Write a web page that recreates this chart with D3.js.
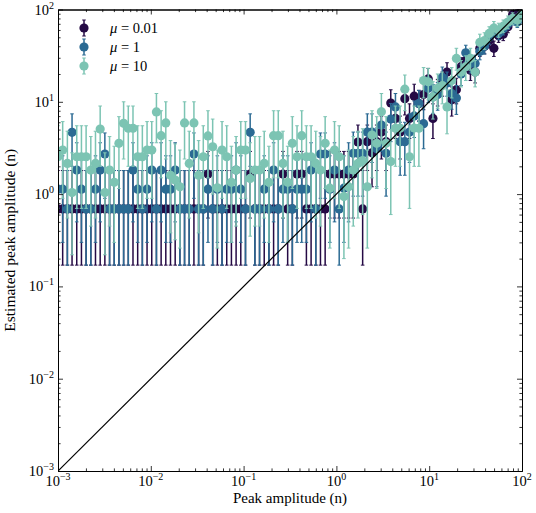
<!DOCTYPE html>
<html>
<head>
<meta charset="utf-8">
<script src="https://cdn.jsdelivr.net/npm/d3@7"></script>
<style>
  body { margin: 0; background: #fff; }
  svg text { font-family: "Liberation Serif", "DejaVu Serif", serif; fill: #000; }
</style>
</head>
<body>
<svg id="chart" width="536" height="513"></svg>
<script>
// ---------- donnees ----------
// amplitude vraie (axe x), grille commune aux trois series
const amplitude = [
  0.001000, 0.001123, 0.001262, 0.001417, 0.001592, 0.001789, 0.002009, 0.002257, 0.002535, 0.002848,
  0.003199, 0.003594, 0.004037, 0.004535, 0.005094, 0.005722, 0.006428, 0.007221, 0.008111, 0.009112,
  0.01024, 0.01150, 0.01292, 0.01451, 0.01630, 0.01831, 0.02057, 0.02310, 0.02595, 0.02915,
  0.03275, 0.03678, 0.04132, 0.04642, 0.05214, 0.05857, 0.06579, 0.07391, 0.08302, 0.09326,
  0.1048, 0.1177, 0.1322, 0.1485, 0.1668, 0.1874, 0.2105, 0.2364, 0.2656, 0.2984,
  0.3352, 0.3765, 0.4229, 0.4751, 0.5337, 0.5995, 0.6734, 0.7565, 0.8498, 0.9545,
  1.072, 1.205, 1.353, 1.520, 1.707, 1.918, 2.154, 2.420, 2.719, 3.054,
  3.430, 3.854, 4.329, 4.863, 5.462, 6.136, 6.893, 7.743, 8.697, 9.770,
  10.97, 12.33, 13.85, 15.56, 17.48, 19.63, 22.05, 24.77, 27.83, 31.26,
  35.11, 39.44, 44.31, 49.77, 55.91, 62.80, 70.55, 79.25, 89.02, 100.0
];

// [estimation, borne basse, borne haute] pour chaque amplitude
const estMu001 = [
  [0.69,0.17,1.8],[0.69,0.17,1.8],[0.69,0.17,1.8],[0.69,0.17,1.8],[0.69,0.17,1.8],[0.69,0.17,1.8],[0.69,0.17,1.8],[0.69,0.17,1.8],[0.69,0.17,1.8],[0.69,0.17,1.8],
  [0.69,0.17,1.8],[0.69,0.17,1.8],[0.69,0.17,1.8],[0.69,0.17,1.8],[0.69,0.17,1.8],[0.69,0.17,1.8],[0.69,0.17,1.8],[0.69,0.17,1.8],[0.69,0.17,1.8],[0.69,0.17,1.8],
  [0.69,0.17,1.8],[0.69,0.17,1.8],[0.69,0.17,1.8],[0.69,0.17,1.8],[0.69,0.17,1.8],[0.69,0.17,1.8],[0.69,0.17,1.8],[0.69,0.17,1.8],[0.69,0.17,1.8],[0.69,0.17,1.8],
  [0.69,0.17,1.8],[0.69,0.17,1.8],[1.65,0.55,2.9],[0.69,0.17,1.8],[0.69,0.17,1.8],[0.69,0.17,1.8],[0.69,0.17,1.8],[0.69,0.17,1.8],[0.69,0.17,1.8],[0.69,0.17,1.8],
  [0.69,0.17,1.8],[1.65,0.55,2.9],[0.69,0.17,1.8],[0.69,0.17,1.8],[0.69,0.17,1.8],[0.69,0.17,1.8],[0.69,0.17,1.8],[0.69,0.17,1.8],[1.65,0.55,2.9],[0.69,0.17,1.8],
  [0.69,0.17,1.8],[1.65,0.55,2.9],[1.65,0.55,2.9],[0.69,0.17,1.8],[0.69,0.17,1.8],[0.69,0.17,1.8],[0.69,0.17,1.8],[0.69,0.17,1.8],[1.65,0.55,2.9],[1.65,0.55,2.9],
  [1.65,0.55,2.9],[1.65,0.55,2.9],[1.65,0.55,2.9],[1.65,0.55,2.9],[3.67,1.8,5.6],[0.69,0.17,1.8],[3.7,1.8,5.6],[2.8,1.2,4.6],[3.7,1.8,5.6],[4.7,2.4,7.0],
  [3.7,1.8,5.6],[9.7,6.3,13.5],[6.6,4.0,9.5],[4.7,2.4,7.0],[10.8,7.2,14.8],[6.6,4.0,9.5],[11.5,7.7,15.5],[9.6,6.2,13.3],[12,8.2,16.2],[17.7,13,23],
  [6.6,4.0,9.5],[13,9,17.5],[16,11.5,21],[21,16,26.5],[10.5,7,14.5],[13.5,9.5,18],[24,18.5,30],[28,22,34.5],[22,17,28],[21,16,26.5],
  [38,31,45.5],[40,33,48],[46,38.5,54],[38,31,45.5],[52,44,60],[54,46,62.5],[65,56,74],[88,78,98],[91,81,101],[95,85,105]
];

const estMu1 = [
  [1.13,0.3,2.6],[1.13,0.3,2.6],[0.69,0.17,1.8],[4.67,2.0,7.4],[1.82,0.5,3.6],[1.13,0.3,2.6],[0.69,0.17,1.8],[0.69,0.17,1.8],[1.13,0.3,2.6],[1.82,0.5,3.6],
  [2.72,0.9,4.6],[0.69,0.17,1.8],[0.69,0.17,1.8],[0.69,0.17,1.8],[0.69,0.17,1.8],[0.69,0.17,1.8],[1.82,0.5,3.6],[1.13,0.3,2.6],[0.69,0.17,1.8],[1.13,0.3,2.6],
  [1.82,0.5,3.6],[0.69,0.17,1.8],[1.82,0.5,3.6],[1.13,0.3,2.6],[1.13,0.3,2.6],[1.82,0.5,3.6],[0.69,0.17,1.8],[0.69,0.17,1.8],[0.69,0.17,1.8],[2.72,0.9,4.6],
  [0.69,0.17,1.8],[0.69,0.17,1.8],[1.13,0.3,2.6],[0.69,0.17,1.8],[1.13,0.3,2.6],[0.69,0.17,1.8],[1.13,0.3,2.6],[1.13,0.3,2.6],[1.82,0.5,3.6],[1.13,0.3,2.6],
  [0.69,0.17,1.8],[4.67,2.0,7.4],[0.69,0.17,1.8],[0.69,0.17,1.8],[1.13,0.3,2.6],[0.69,0.17,1.8],[1.82,0.5,3.6],[0.69,0.17,1.8],[1.13,0.3,2.6],[1.13,0.3,2.6],
  [0.69,0.17,1.8],[1.13,0.3,2.6],[1.13,0.3,2.6],[1.13,0.3,2.6],[1.82,0.5,3.6],[0.69,0.17,1.8],[2.72,0.9,4.6],[2.72,0.9,4.6],[1.13,0.3,2.6],[1.82,0.5,3.6],
  [0.69,0.17,1.8],[1.16,0.3,2.6],[1.82,0.5,3.6],[2.77,0.95,4.7],[2.77,0.95,4.7],[2.77,0.95,4.7],[4.7,2.2,7.4],[4.7,2.2,7.4],[3.1,1.2,5.2],[5.6,2.9,8.5],
  [2.77,0.95,4.7],[6.5,3.7,9.6],[8.8,5.5,12.3],[3.7,1.6,6.0],[3.7,1.6,6.0],[4.7,2.2,7.4],[7.0,4.1,10.2],[9.6,6.1,13.3],[5.8,3.1,8.8],[14,9.8,18.6],
  [11.3,7.5,15.4],[12,8.1,16.2],[18.5,13.6,23.8],[16,11.5,21],[12.3,8.3,16.6],[11,7.3,15],[20,15,25.5],[34,27.5,41],[26,20.5,32],[26,20.5,32],
  [35,28.5,42],[40,33,48],[50,42,58],[60,51,69],[55,47,64],[62,53,71],[70,61,80],[78,68,88],[73,64,83],[90,80,100]
];

const estMu10 = [
  [2.54,0.7,5.5],[3.0,0.9,6.1],[2.15,0.55,4.8],[1.04,0.22,2.8],[2.54,0.7,5.5],[2.54,0.7,5.5],[2.54,0.7,5.5],[1.82,0.45,4.2],[2.15,0.55,4.8],[5.07,2.0,9.0],
  [1.04,0.22,2.8],[1.82,0.45,4.2],[1.34,0.3,3.3],[3.55,1.15,6.9],[5.85,2.4,10],[5.17,2.0,9.0],[5.17,2.0,9.0],[2.54,0.7,5.5],[2.54,0.7,5.5],[3.0,0.9,6.1],
  [3.0,0.9,6.1],[7.76,3.6,12.3],[4.3,1.5,8.0],[5.9,2.4,10],[1.6,0.38,3.8],[1.42,0.32,3.5],[1.2,0.26,3.0],[5.9,2.4,10],[2.15,0.55,4.8],[5.9,2.4,10],
  [1.6,0.38,3.8],[2.54,0.7,5.5],[4.27,1.5,8.0],[3.26,1.0,6.5],[1.17,0.26,3.0],[3.0,0.9,6.1],[2.54,0.7,5.5],[1.34,0.3,3.3],[1.82,0.45,4.2],[3.0,0.9,6.1],
  [3.0,0.9,6.1],[1.48,0.35,3.6],[1.82,0.45,4.2],[1.82,0.45,4.2],[2.15,0.55,4.8],[1.34,0.3,3.3],[4.3,1.5,8.0],[4.3,1.5,8.0],[2.15,0.55,4.8],[1.34,0.3,3.3],
  [3.55,1.15,6.9],[2.54,0.7,5.5],[4.3,1.5,8.0],[2.54,0.7,5.5],[2.54,0.7,5.5],[2.15,0.55,4.8],[1.82,0.45,4.2],[3.55,1.15,6.9],[1.16,0.26,3.0],[3.0,0.9,6.1],
  [2.54,0.7,5.5],[0.94,0.2,2.6],[1.2,0.26,3.0],[1.82,0.45,4.2],[2.15,0.55,4.8],[2.3,0.6,5.1],[1.2,0.26,3.0],[4.37,1.5,8.0],[3.55,1.15,6.9],[7.8,3.6,12.3],
  [3.55,1.15,6.9],[2.25,0.6,5.0],[5.17,2.0,9.0],[5.17,2.0,9.0],[13.7,8,19.5],[2.54,0.7,5.5],[5.2,2.0,9.0],[5.17,2.0,9.0],[17,11,23.5],[16.5,10.5,23],
  [11.3,6.5,16.5],[14,8.5,20],[15,9.5,21],[8.8,4.5,13.5],[17,11,23.5],[29.5,22,38],[21,14.5,28],[24,17,31.5],[29.5,22,38],[21,14.5,28],
  [44,35,54],[46,37,56],[55,45,65],[63,53,74],[60,50,71],[66,56,77],[73,62,85],[80,69,92],[77,66,89],[90,78,103]
];

const seriesMu = ["0.01", "1", "10"];
const seriesEst = [estMu001, estMu1, estMu10];
const seriesColors = ["#250a45", "#2b6a93", "#7cc4b3"];

// graduations
const majorTicks = [1e-3, 1e-2, 1e-1, 1e0, 1e1, 1e2];
const tickExponents = ["\u22123", "\u22122", "\u22121", "0", "1", "2"];

// ---------- mise en page ----------
const plotLeft = 58, plotRight = 522, plotTop = 9.5, plotBottom = 471;

const svg = d3.select("#chart");

const x = d3.scaleLog().domain([1e-3, 1e2]).range([plotLeft, plotRight]);
const y = d3.scaleLog().domain([1e-3, 1e2]).range([plotBottom, plotTop]);

const minorTicks = [];
for (let e = -3; e < 2; e++) {
  for (let m = 2; m <= 9; m++) minorTicks.push(m * Math.pow(10, e));
}

svg.append("clipPath").attr("id", "plotClip")
  .append("rect")
  .attr("x", plotLeft).attr("y", plotTop)
  .attr("width", plotRight - plotLeft).attr("height", plotBottom - plotTop);

const plot = svg.append("g").attr("clip-path", "url(#plotClip)");

// barres d'erreur + points, une serie apres l'autre
seriesEst.forEach((est, i) => {
  const color = seriesColors[i];
  const g = plot.append("g");
  const rows = est.map((d, k) => ({ amp: amplitude[k], v: d[0], lo: d[1], hi: d[2] }));

  g.selectAll("line.bar")
    .data(rows)
    .enter()
    .append("line")
    .attr("class", "bar")
    .attr("x1", d => x(d.amp)).attr("x2", d => x(d.amp))
    .attr("y1", d => y(d.lo)).attr("y2", d => y(d.hi))
    .attr("stroke", color)
    .attr("stroke-width", 1.5);

  // petits chapeaux en haut et en bas
  ["lo", "hi"].forEach(side => {
    g.selectAll("line.cap-" + side)
      .data(rows)
      .enter()
      .append("line")
      .attr("class", "cap-" + side)
      .attr("x1", d => x(d.amp) - 1.8).attr("x2", d => x(d.amp) + 1.8)
      .attr("y1", d => y(d[side])).attr("y2", d => y(d[side]))
      .attr("stroke", color)
      .attr("stroke-width", 1);
  });

  g.selectAll("circle")
    .data(rows)
    .enter()
    .append("circle")
    .attr("cx", d => x(d.amp))
    .attr("cy", d => y(d.v))
    .attr("r", 4.6)
    .attr("fill", color);
});

// droite y = x
plot.append("line")
  .attr("x1", x(1e-3)).attr("y1", y(1e-3))
  .attr("x2", x(1e2)).attr("y2", y(1e2))
  .attr("stroke", "#000")
  .attr("stroke-width", 1.2);

// ---------- axes (graduations vers l'interieur, sur les 4 cotes) ----------
function styleAxis(g) {
  g.selectAll("path.domain").attr("stroke", "#000").attr("stroke-width", 1);
  g.selectAll(".tick line").attr("stroke", "#000").attr("stroke-width", 0.8);
}

[[majorTicks, 5], [minorTicks, 2.6]].forEach(([vals, len]) => {
  svg.append("g").attr("transform", `translate(0,${plotBottom})`)
    .call(d3.axisBottom(x).tickValues(vals).tickSize(-len).tickSizeOuter(0).tickFormat(""))
    .call(styleAxis);
  svg.append("g").attr("transform", `translate(0,${plotTop})`)
    .call(d3.axisTop(x).tickValues(vals).tickSize(-len).tickSizeOuter(0).tickFormat(""))
    .call(styleAxis);
  svg.append("g").attr("transform", `translate(${plotLeft},0)`)
    .call(d3.axisLeft(y).tickValues(vals).tickSize(-len).tickSizeOuter(0).tickFormat(""))
    .call(styleAxis);
  svg.append("g").attr("transform", `translate(${plotRight},0)`)
    .call(d3.axisRight(y).tickValues(vals).tickSize(-len).tickSizeOuter(0).tickFormat(""))
    .call(styleAxis);
});

// etiquettes 10^k
const xLabels = svg.append("g").selectAll("text")
  .data(majorTicks)
  .enter()
  .append("text")
  .attr("x", d => x(d))
  .attr("y", plotBottom + 15)
  .attr("text-anchor", "middle")
  .attr("font-size", 14.5);
xLabels.append("tspan").text("10");
xLabels.append("tspan").attr("dy", -6).attr("font-size", 10).text((d, i) => tickExponents[i]);

const yLabels = svg.append("g").selectAll("text")
  .data(majorTicks)
  .enter()
  .append("text")
  .attr("x", plotLeft - 4)
  .attr("y", d => y(d) + 5)
  .attr("text-anchor", "end")
  .attr("font-size", 14.5);
yLabels.append("tspan").text("10");
yLabels.append("tspan").attr("dy", -6).attr("font-size", 10).text((d, i) => tickExponents[i]);

// titres des axes
svg.append("text")
  .attr("x", (plotLeft + plotRight) / 2)
  .attr("y", 503)
  .attr("text-anchor", "middle")
  .attr("font-size", 15)
  .text("Peak amplitude (n)");

svg.append("text")
  .attr("transform", `translate(15,${(plotTop + plotBottom) / 2}) rotate(-90)`)
  .attr("text-anchor", "middle")
  .attr("font-size", 15.5)
  .text("Estimated peak amplitude (n)");

// ---------- legende ----------
const legend = svg.append("g").attr("transform", "translate(84,28)");
seriesMu.forEach((mu, i) => {
  const row = legend.append("g").attr("transform", `translate(0,${i * 19})`);
  row.append("line").attr("x1", 0).attr("x2", 0).attr("y1", -8).attr("y2", 8)
    .attr("stroke", seriesColors[i]).attr("stroke-width", 1.5);
  [-8, 8].forEach(cy => {
    row.append("line").attr("x1", -1.8).attr("x2", 1.8).attr("y1", cy).attr("y2", cy)
      .attr("stroke", seriesColors[i]).attr("stroke-width", 1);
  });
  row.append("circle").attr("r", 4.6).attr("fill", seriesColors[i]);
  const t = row.append("text").attr("x", 26).attr("y", 4.5).attr("font-size", 14.5);
  t.append("tspan").attr("font-style", "italic").text("\u03bc");
  t.append("tspan").text(" = " + mu);
});
</script>
</body>
</html>
